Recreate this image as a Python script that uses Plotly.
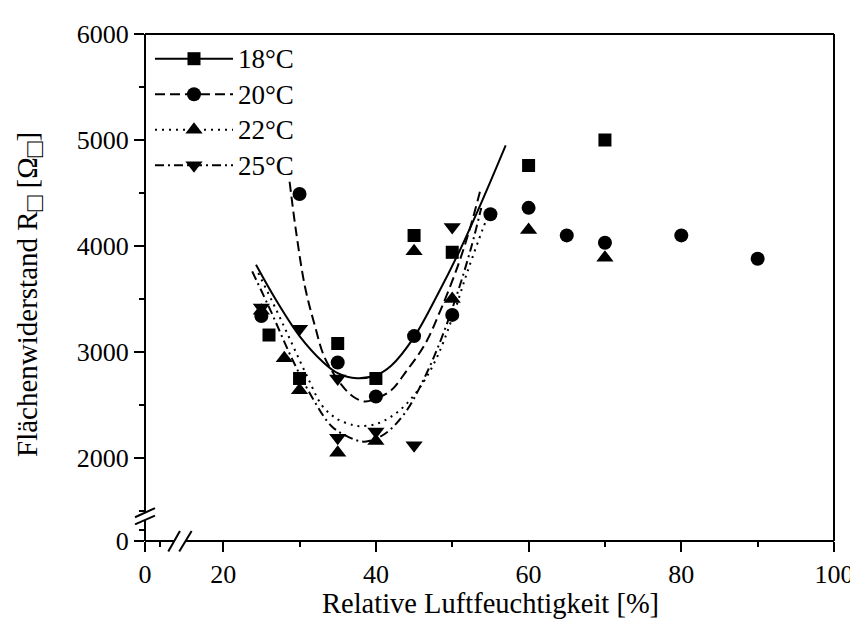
import plotly.graph_objects as go

# ---------------- data ----------------
temps = ["18°C", "20°C", "22°C", "25°C"]

hum18 = [26, 30, 35, 40, 45, 50, 60, 70]
r18 = [3160, 2750, 3080, 2750, 4100, 3940, 4760, 5000]

hum20 = [25, 30, 35, 40, 45, 50, 55, 60, 65, 70, 80, 90]
r20 = [3340, 4490, 2900, 2580, 3150, 3350, 4300, 4360, 4100, 4030, 4100, 3880]

hum22 = [25, 28, 30, 35, 40, 45, 50, 60, 70]
r22 = [3390, 2940, 2640, 2050, 2160, 3950, 3500, 4150, 3890]

hum25 = [25, 30, 35, 35, 40, 45, 50]
r25 = [3420, 3220, 2750, 2190, 2250, 2120, 4180]

# fitted curves
fit18_x = [24.3, 27, 30, 33, 35, 37.5, 40, 42, 45, 48, 51, 54, 57]
fit18_y = [3822, 3480, 3150, 2910, 2800, 2752, 2780, 2870, 3140, 3530, 3960, 4440, 4949]

fit20_x = [28.7, 29.5, 30.7, 32, 33.3, 35.5, 37, 38.5, 40, 42, 44, 46.4, 48.5, 50.7, 52.3, 53.8]
fit20_y = [4606, 4160, 3620, 3250, 2946, 2690, 2580, 2532, 2560, 2639, 2820, 3069, 3400, 3806, 4160, 4559]

fit22_x = [24.6, 27, 29, 31, 33, 35, 37, 38, 40, 42, 44, 46, 48, 50, 52, 54, 54.7]
fit22_y = [3745, 3390, 3080, 2770, 2490, 2365, 2310, 2300, 2320, 2390, 2510, 2690, 2950, 3320, 3760, 4160, 4290]

fit25_x = [23.8, 26.3, 28.95, 31.6, 34.2, 36.5, 38.5, 41.1, 43.8, 46.4, 48.6, 50.7, 52.5, 53.8]
fit25_y = [3760, 3376, 2946, 2578, 2300, 2195, 2154, 2224, 2424, 2762, 3131, 3560, 3991, 4359]

x_major = [20, 40, 60, 80, 100]
y_major = [2000, 3000, 4000, 5000, 6000]

# ---------------- geometry (screen pixels; page body adds an 8 px offset) ----------------
FONT = "Liberation Serif"
BLACK = "black"
W, H = 858, 621
OFF = 8
PL, PR, PT, PB = 145, 835, 22, 541          # plot area on screen
PW, PH = PR - PL, PB - PT


def px2paper_x(px):
    return (px - PL) / PW


def px2paper_y(py):
    return (PB - py) / PH


series = [
    (hum18, r18, fit18_x, fit18_y, "square", 13, "solid"),
    (hum20, r20, fit20_x, fit20_y, "circle", 14, "10px,5px"),
    (hum22, r22, fit22_x, fit22_y, "triangle-up", 15, "2px,5px"),
    (hum25, r25, fit25_x, fit25_y, "triangle-down", 15, "9px,4px,2px,4px"),
]

fig = go.Figure()
for name, (hx, ry, fx, fy, sym, ms, dash) in zip(temps, series):
    fig.add_trace(go.Scatter(x=fx, y=fy, mode="lines", line=dict(color=BLACK, width=2, dash=dash, shape="spline"),
                             showlegend=False, hoverinfo="skip"))
for name, (hx, ry, fx, fy, sym, ms, dash) in zip(temps, series):
    fig.add_trace(go.Scatter(x=hx, y=ry, mode="markers", marker=dict(symbol=sym, size=ms, color=BLACK),
                             showlegend=False, name=name))
for name, (hx, ry, fx, fy, sym, ms, dash) in zip(temps, series):
    fig.add_trace(go.Scatter(x=[None], y=[None], mode="lines+markers",
                             name="<span style='font-size:27px'>" + name + "</span>",
                             line=dict(color=BLACK, width=2, dash=dash),
                             marker=dict(symbol=sym, size=ms, color=BLACK)))
# empty trace to create the lower-left (broken) axis segments
fig.add_trace(go.Scatter(x=[None], y=[None], xaxis="x2", yaxis="y2", showlegend=False, hoverinfo="skip"))

# axis geometry
x_up_left_px = 186
x_lo_right_px = 174
px_per_x = (835 - 223.3) / 80.0
x_up_min = 20 - (223.3 - x_up_left_px) / px_per_x
x_lo_max = (x_lo_right_px - PL) / px_per_x

y_up_bot_px = 512
y_lo_top_px = 519.5
px_per_y = (456 - 22) / 4000.0
y_up_min = 2000 - (y_up_bot_px - 456) / px_per_y
y_lo_max = (PB - y_lo_top_px) / px_per_y

tickfont = dict(family=FONT, size=26, color=BLACK)
common = dict(showgrid=False, zeroline=False, showline=True, linecolor=BLACK, linewidth=2,
              ticks="outside", ticklen=10, tickwidth=2, tickcolor=BLACK, tickfont=tickfont)
minor_common = dict(ticks="outside", ticklen=5, tickwidth=2, tickcolor=BLACK)

fig.update_layout(
    width=W, height=H,
    margin=dict(l=PL - OFF, r=W - (PR - OFF), t=PT - OFF, b=H - (PB - OFF)),
    paper_bgcolor="white", plot_bgcolor="white",
    font=dict(family=FONT, color=BLACK),
    xaxis=dict(domain=[px2paper_x(x_up_left_px), 1], range=[x_up_min, 100], anchor="free", position=0,
               tickvals=x_major, minor=dict(dtick=10, tick0=0, **minor_common), **common),
    xaxis2=dict(domain=[0, px2paper_x(x_lo_right_px)], range=[0, x_lo_max], anchor="free", position=0,
                tickvals=[0], minor=dict(tickvals=[2], **minor_common), **common),
    yaxis=dict(domain=[px2paper_y(y_up_bot_px), 1], range=[y_up_min, 6000], anchor="free", position=0,
               tickvals=y_major, minor=dict(dtick=500, tick0=0, **minor_common), **common),
    yaxis2=dict(domain=[0, px2paper_y(y_lo_top_px)], range=[0, y_lo_max], anchor="free", position=0,
                tickvals=[0], minor=dict(tickvals=[100], **minor_common), **common),
    legend=dict(x=px2paper_x(150), y=px2paper_y(24), xanchor="left", yanchor="top",
                bgcolor="rgba(0,0,0,0)", borderwidth=0, itemwidth=78,
                font=dict(family=FONT, size=25, color=BLACK)),
    showlegend=True,
)

shapes = []
# frame top and right
shapes.append(dict(type="line", xref="paper", yref="paper", x0=0, y0=1, x1=1, y1=1, line=dict(color=BLACK, width=2)))
shapes.append(dict(type="line", xref="paper", yref="paper", x0=1, y0=0, x1=1, y1=1, line=dict(color=BLACK, width=2)))
# break marks on x axis
for (a, b, c, d) in [(168.3, 551.7, 180, 530.7), (179.3, 551.7, 191.7, 530.7)]:
    shapes.append(dict(type="line", xref="paper", yref="paper", x0=px2paper_x(a), y0=px2paper_y(b),
                       x1=px2paper_x(c), y1=px2paper_y(d), line=dict(color=BLACK, width=2)))
# break marks on y axis
for (a, b, c, d) in [(135, 516.7, 155, 507.3), (135, 524, 155, 515)]:
    shapes.append(dict(type="line", xref="paper", yref="paper", x0=px2paper_x(a), y0=px2paper_y(b),
                       x1=px2paper_x(c), y1=px2paper_y(d), line=dict(color=BLACK, width=2)))
fig.update_layout(shapes=shapes)

fig.add_annotation(text="Relative Luftfeuchtigkeit [%]", xref="paper", yref="paper",
                   x=px2paper_x(491), y=px2paper_y(605), xanchor="center", yanchor="middle", showarrow=False,
                   font=dict(family=FONT, size=28.5, color=BLACK))
fig.add_annotation(text="Flächenwiderstand R<sub><span style='font-size:26px;fill:black'>□</span></sub> "
                        "[Ω<sub><span style='font-size:26px;fill:black'>□</span></sub>]",
                   xref="paper", yref="paper",
                   x=px2paper_x(30), y=px2paper_y(289), xanchor="center", yanchor="middle", showarrow=False,
                   textangle=-90, font=dict(family=FONT, size=29, color=BLACK))

fig.write_html("out.html")
